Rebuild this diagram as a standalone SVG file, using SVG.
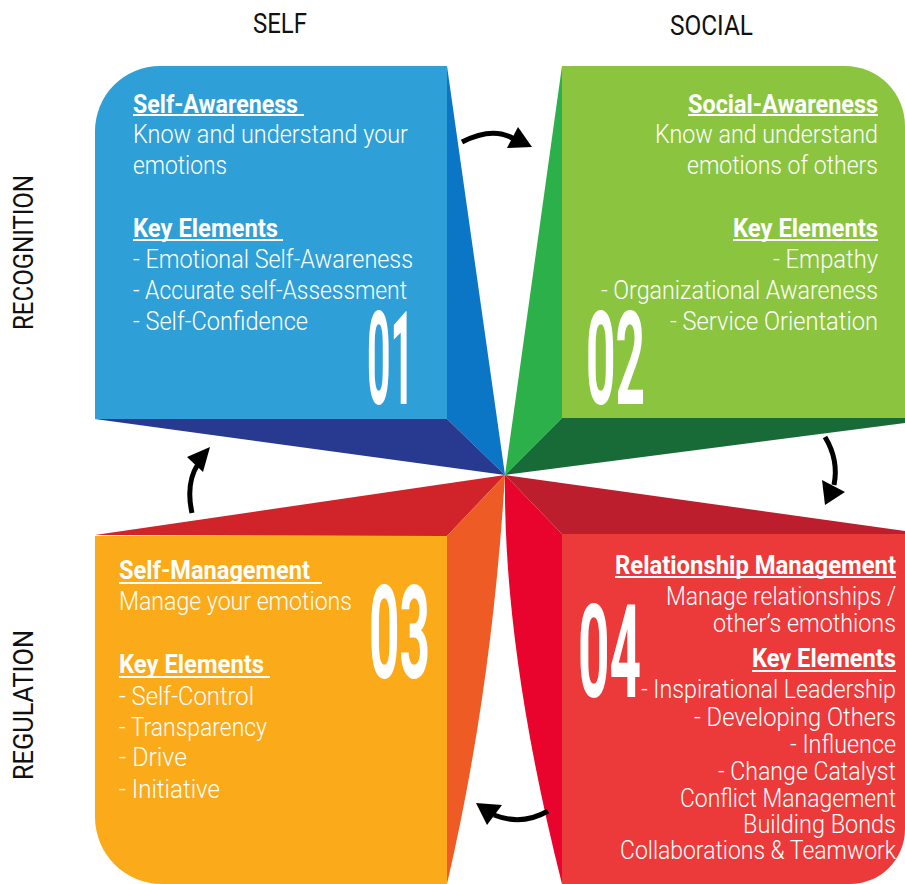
<svg xmlns="http://www.w3.org/2000/svg" width="905" height="884" viewBox="0 0 905 884">
<style>
.t{font-family:Roboto,"Liberation Sans",sans-serif;font-weight:300;font-size:25px;fill:#fff}
.h{font-family:Roboto,"Liberation Sans",sans-serif;font-weight:700;font-size:26px;fill:#fff}
.n{font-family:Roboto,"Liberation Sans",sans-serif;font-weight:700;font-size:129px;fill:#fff}
.ax{font-family:Roboto,"Liberation Sans",sans-serif;font-weight:400;font-size:28px;fill:#111}
.u{stroke:#fff;stroke-width:2}
.arr{fill:none;stroke:#000;stroke-width:5;stroke-linecap:butt}
.head{fill:#000}
</style>
<rect width="905" height="884" fill="#fff"/>

<g id="axis-labels">
<text class="ax" x="253" y="33" textLength="54" lengthAdjust="spacingAndGlyphs">SELF</text>
<text class="ax" x="670" y="35" textLength="83" lengthAdjust="spacingAndGlyphs">SOCIAL</text>
<text class="ax" transform="translate(33,330) rotate(-90)" textLength="155" lengthAdjust="spacingAndGlyphs">RECOGNITION</text>
<text class="ax" transform="translate(33,780) rotate(-90)" textLength="150" lengthAdjust="spacingAndGlyphs">REGULATION</text>
</g>

<g id="node-self-awareness">
<path d="M95,131 A65,65 0 0 1 160,66 L447,66 L447,419 L95,419 Z" fill="#2f9fd8"/>
<path d="M447,66 L505,475 L447,419 Z" fill="#0b75c6"/>
<path d="M95,419 L447,419 L505,475 Z" fill="#283a8f"/>
<text class="h" x="133" y="113" textLength="165" lengthAdjust="spacingAndGlyphs">Self-Awareness</text>
<line class="u" x1="133" y1="115" x2="304" y2="115"/>
<text class="t" x="133" y="143" textLength="275" lengthAdjust="spacingAndGlyphs">Know and understand your</text>
<text class="t" x="133" y="174" textLength="94" lengthAdjust="spacingAndGlyphs">emotions</text>
<text class="h" x="133" y="237" textLength="145" lengthAdjust="spacingAndGlyphs">Key Elements</text>
<line class="u" x1="133" y1="240" x2="283" y2="240"/>
<text class="t" x="133" y="268" textLength="280" lengthAdjust="spacingAndGlyphs">- Emotional Self-Awareness</text>
<text class="t" x="133" y="299" textLength="274" lengthAdjust="spacingAndGlyphs">- Accurate self-Assessment</text>
<text class="t" x="133" y="330" textLength="175" lengthAdjust="spacingAndGlyphs">- Self-Confidence</text>
<text class="n" x="367" y="404" textLength="47" lengthAdjust="spacingAndGlyphs">01</text>
</g>

<g id="node-social-awareness">
<path d="M562,66 L845,66 A60,60 0 0 1 905,126 L905,418 L562,418 Z" fill="#8bc540"/>
<path d="M562,66 L505,475 L562,418 Z" fill="#2bb04a"/>
<path d="M562,418 L905,418 L905,423 L505,475 Z" fill="#186b37"/>
<text class="h" x="688" y="113" textLength="190" lengthAdjust="spacingAndGlyphs">Social-Awareness</text>
<line class="u" x1="688" y1="115" x2="878" y2="115"/>
<text class="t" x="655" y="143" textLength="223" lengthAdjust="spacingAndGlyphs">Know and understand</text>
<text class="t" x="687" y="174" textLength="191" lengthAdjust="spacingAndGlyphs">emotions of others</text>
<text class="h" x="733" y="237" textLength="145" lengthAdjust="spacingAndGlyphs">Key Elements</text>
<line class="u" x1="733" y1="240" x2="878" y2="240"/>
<text class="t" x="773" y="268" textLength="105" lengthAdjust="spacingAndGlyphs">- Empathy</text>
<text class="t" x="601" y="299" textLength="277" lengthAdjust="spacingAndGlyphs">- Organizational Awareness</text>
<text class="t" x="670" y="330" textLength="208" lengthAdjust="spacingAndGlyphs">- Service Orientation</text>
<text class="n" x="586" y="404" textLength="59" lengthAdjust="spacingAndGlyphs">02</text>
</g>

<g id="node-self-management">
<path d="M95,536 L447,536 L447,884 L162,884 A67,67 0 0 1 95,817 Z" fill="#fbaa19"/>
<path d="M95,535 L505,475 L447,536 Z" fill="#d1232a"/>
<path d="M505,475 Q492,690 447,884 L447,536 Z" fill="#ef5b24"/>
<text class="h" x="119" y="579" textLength="191" lengthAdjust="spacingAndGlyphs">Self-Management</text>
<line class="u" x1="119" y1="583" x2="322" y2="583"/>
<text class="t" x="119" y="610" textLength="233" lengthAdjust="spacingAndGlyphs">Manage your emotions</text>
<text class="h" x="119" y="673" textLength="145" lengthAdjust="spacingAndGlyphs">Key Elements</text>
<line class="u" x1="119" y1="677" x2="270" y2="677"/>
<text class="t" x="119" y="705" textLength="135" lengthAdjust="spacingAndGlyphs">- Self-Control</text>
<text class="t" x="119" y="736" textLength="148" lengthAdjust="spacingAndGlyphs">- Transparency</text>
<text class="t" x="119" y="766" textLength="68" lengthAdjust="spacingAndGlyphs">- Drive</text>
<text class="t" x="119" y="798" textLength="101" lengthAdjust="spacingAndGlyphs">- Initiative</text>
<text class="n" x="369" y="678" textLength="61" lengthAdjust="spacingAndGlyphs">03</text>
</g>

<g id="node-relationship-management">
<path d="M562,534 L905,534 L905,829 A55,55 0 0 1 850,884 L562,884 Z" fill="#ec3a3a"/>
<path d="M505,475 L905,531 L905,534 L562,534 Z" fill="#bd1e2d"/>
<path d="M505,475 L562,534 L562,884 Q503,650 505,475 Z" fill="#e8042c"/>
<text class="h" x="615" y="574" textLength="281" lengthAdjust="spacingAndGlyphs">Relationship Management</text>
<line class="u" x1="615" y1="577" x2="896" y2="577"/>
<text class="t" x="666" y="605" textLength="230" lengthAdjust="spacingAndGlyphs">Manage relationships /</text>
<text class="t" x="713" y="632" textLength="183" lengthAdjust="spacingAndGlyphs">other’s emothions</text>
<text class="h" x="752" y="667" textLength="144" lengthAdjust="spacingAndGlyphs">Key Elements</text>
<line class="u" x1="752" y1="671" x2="896" y2="671"/>
<text class="t" x="641" y="698" textLength="255" lengthAdjust="spacingAndGlyphs">- Inspirational Leadership</text>
<text class="t" x="694" y="726" textLength="202" lengthAdjust="spacingAndGlyphs">- Developing Others</text>
<text class="t" x="790" y="753" textLength="106" lengthAdjust="spacingAndGlyphs">- Influence</text>
<text class="t" x="718" y="780" textLength="178" lengthAdjust="spacingAndGlyphs">- Change Catalyst</text>
<text class="t" x="680" y="807" textLength="216" lengthAdjust="spacingAndGlyphs">Conflict Management</text>
<text class="t" x="743" y="833" textLength="153" lengthAdjust="spacingAndGlyphs">Building Bonds</text>
<text class="t" x="620" y="859" textLength="276" lengthAdjust="spacingAndGlyphs">Collaborations &amp; Teamwork</text>
<text class="n" x="578" y="697" textLength="63" lengthAdjust="spacingAndGlyphs">04</text>
</g>

<g id="connectors">
<path class="arr" d="M462,142 Q493,126 514,139"/>
<polygon class="head" points="518,127 532,147 507,148"/>
<path class="arr" d="M825,437 C836,455 837,470 834,485"/>
<polygon class="head" points="822,480 845,492 825,505"/>
<path class="arr" d="M548,811 Q522,826 494,815"/>
<polygon class="head" points="476,803 502,805 487,825"/>
<path class="arr" d="M192,513 C188,495 189,478 198,464"/>
<polygon class="head" points="210,447 187,457 203,472"/>
</g>
</svg>
